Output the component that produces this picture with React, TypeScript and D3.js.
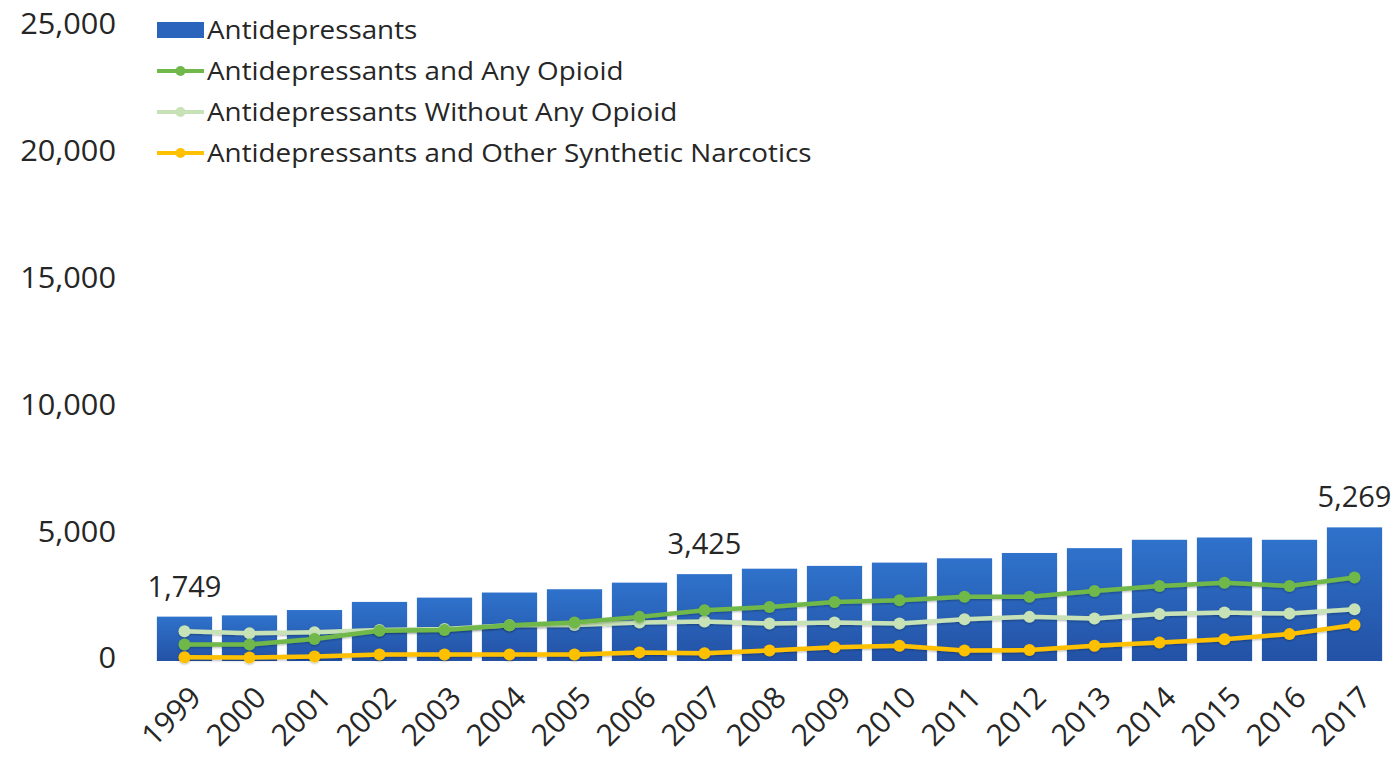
import React from "react";
import * as d3 from "d3";

const years = [
  "1999", "2000", "2001", "2002", "2003", "2004", "2005", "2006", "2007", "2008",
  "2009", "2010", "2011", "2012", "2013", "2014", "2015", "2016", "2017",
];
const antidepressants = [
  1749, 1800, 2010, 2330, 2500, 2700, 2830, 3090, 3425, 3640,
  3750, 3880, 4050, 4260, 4450, 4780, 4870, 4780, 5269,
];
const withAnyOpioid = [
  650, 650, 870, 1190, 1220, 1410, 1520, 1740, 2000, 2130,
  2330, 2400, 2530, 2530, 2760, 2960, 3090, 2960, 3290,
];
const withoutAnyOpioid = [
  1170, 1090, 1130, 1220, 1260, 1410, 1420, 1520, 1560, 1480,
  1520, 1480, 1650, 1740, 1680, 1850, 1910, 1870, 2040,
];
const otherSynthetic = [
  150, 140, 180, 260, 260, 260, 260, 340, 310, 410,
  540, 600, 410, 430, 600, 730, 860, 1060, 1420,
];
const yTicks = [0, 5000, 10000, 15000, 20000, 25000];
const labelledYears = ["1999", "2007", "2017"];

const legendItems = [
  { name: "Antidepressants", color: "#2a64bd", kind: "bar" },
  { name: "Antidepressants and Any Opioid", color: "#70b84a", kind: "line" },
  { name: "Antidepressants Without Any Opioid", color: "#c6e2b6", kind: "line" },
  { name: "Antidepressants and Other Synthetic Narcotics", color: "#ffc000", kind: "line" },
];

const lineSeries = [
  { values: withoutAnyOpioid, color: "#c6e2b6" },
  { values: withAnyOpioid, color: "#70b84a" },
  { values: otherSynthetic, color: "#ffc000" },
];

const FONT = "'Open Sans', Lato, sans-serif";
const TEXT = "#262626";
const fmt = d3.format(",");

export default function App() {
  const width = 1399;
  const height = 763;
  const x = d3.scaleBand<string>().domain(years).range([152, 1387]).paddingInner(0.15).paddingOuter(0.075);
  const y = d3.scaleLinear().domain([0, 25000]).range([661, 27]);
  const cx = (yr: string) => (x(yr) as number) + x.bandwidth() / 2;
  const line = d3
    .line<number>()
    .x((_, i) => cx(years[i]))
    .y((d) => y(d));

  return (
    <svg
      width={width}
      height={height}
      style={{ position: "absolute", left: 0, top: 0, background: "#fff" }}
      fontFamily={FONT}
    >
      <defs>
        <linearGradient id="barFill" x1="0" y1="0" x2="0" y2="1">
          <stop offset="0" stopColor="#2f72cb" />
          <stop offset="1" stopColor="#2352a6" />
        </linearGradient>
        <filter id="soft" x="-10%" y="-50%" width="120%" height="200%">
          <feDropShadow dx="0" dy="1" stdDeviation="1.2" floodColor="#000" floodOpacity="0.3" />
        </filter>
      </defs>

      {/* y axis tick labels */}
      {yTicks.map((t) => (
        <text
          key={t}
          transform={`translate(116,${y(t) - 3}) scale(1.06,1)`}
          dy="0.36em"
          textAnchor="end"
          fontSize={29}
          fill={TEXT}
        >
          {fmt(t)}
        </text>
      ))}

      {/* bars */}
      {years.map((yr, i) => (
        <rect
          key={yr}
          x={x(yr)}
          y={y(antidepressants[i])}
          width={x.bandwidth()}
          height={y(0) - y(antidepressants[i])}
          fill="url(#barFill)"
        />
      ))}

      {/* value labels */}
      {years.map((yr, i) =>
        labelledYears.includes(yr) ? (
          <text
            key={"lbl" + yr}
            x={cx(yr)}
            y={y(antidepressants[i]) - 20}
            textAnchor="middle"
            fontSize={29}
            fill={TEXT}
          >
            {fmt(antidepressants[i])}
          </text>
        ) : null
      )}

      {/* line series */}
      {lineSeries.map((s, k) => (
        <g key={k} filter="url(#soft)">
          <path d={line(s.values) || ""} fill="none" stroke={s.color} strokeWidth={4.5} />
          {s.values.map((v, i) => (
            <circle key={i} cx={cx(years[i])} cy={y(v)} r={6} fill={s.color} />
          ))}
        </g>
      ))}

      {/* x axis labels */}
      {years.map((yr) => (
        <text
          key={"x" + yr}
          transform={`translate(${cx(yr) + 3},${684}) rotate(-45)`}
          textAnchor="end"
          dy="0.72em"
          fontSize={30}
          fill={TEXT}
        >
          {yr}
        </text>
      ))}

      {/* legend */}
      {legendItems.map((it, i) => {
        const ly = 30 + i * 41;
        return (
          <g key={it.name} transform={`translate(157,${ly})`}>
            {it.kind === "bar" ? (
              <rect x={0} y={-8} width={47} height={16} fill={it.color} />
            ) : (
              <g>
                <line x1={0} x2={47} y1={0} y2={0} stroke={it.color} strokeWidth={4} />
                <circle cx={23.5} cy={0} r={5} fill={it.color} />
              </g>
            )}
            <text transform="translate(50,0) scale(1.07,1)" dy="0.36em" fontSize={26} fill={TEXT}>
              {it.name}
            </text>
          </g>
        );
      })}
    </svg>
  );
}
